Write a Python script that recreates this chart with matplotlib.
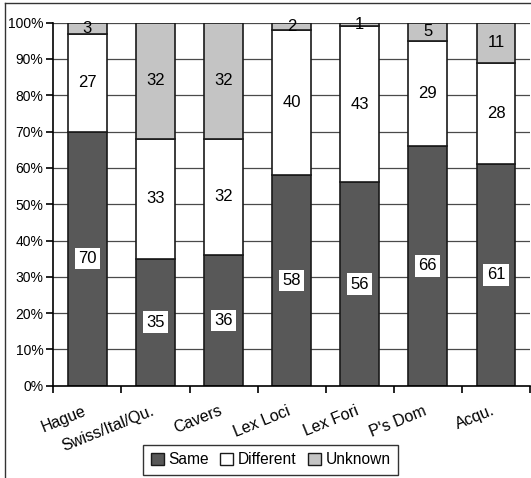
import matplotlib
matplotlib.use("Agg")
import matplotlib.pyplot as plt
from matplotlib.lines import Line2D
from matplotlib.patches import Patch
import numpy as np

plt.rcParams['font.family'] = ['Liberation Sans', 'DejaVu Sans']

categories = ["Hague", "Swiss/Ital/Qu.", "Cavers", "Lex Loci", "Lex Fori", "P's Dom", "Acqu."]
same = [70, 35, 36, 58, 56, 66, 61]
different = [27, 33, 32, 40, 43, 29, 28]
unknown = [3, 32, 32, 2, 1, 5, 11]
series_names = ["Same", "Different", "Unknown"]
colors = ["#585858", "#ffffff", "#c4c4c4"]

fig = plt.figure(figsize=(5.31, 4.78), dpi=100)
ax = fig.add_axes([53.3 / 531, 1 - 385.7 / 478, (530 - 53.3) / 531, (385.7 - 22.7) / 478])

x = np.arange(len(categories))
width = 0.57
same_a = np.array(same, dtype=float)
diff_a = np.array(different, dtype=float)
unk_a = np.array(unknown, dtype=float)

# horizontal gridlines behind bars
for v in range(10, 101, 10):
    ax.axhline(v, color="#4a4a4a", lw=0.9, zorder=0)

ax.bar(x, same_a, width, color=colors[0], edgecolor="#1a1a1a", lw=1.2, zorder=2)
ax.bar(x, diff_a, width, bottom=same_a, color=colors[1], edgecolor="#1a1a1a", lw=1.2, zorder=2)
ax.bar(x, unk_a, width, bottom=same_a + diff_a, color=colors[2], edgecolor="#1a1a1a", lw=1.2, zorder=2)

lab_fs = 12
for i in range(len(categories)):
    ax.text(x[i], same_a[i] / 2, str(same[i]), ha="center", va="center", fontsize=lab_fs,
            zorder=4, bbox=dict(boxstyle="square,pad=0.2", fc="white", ec="none"))
    ax.text(x[i], same_a[i] + diff_a[i] / 2, str(different[i]), ha="center", va="center",
            fontsize=lab_fs, zorder=4)
    ax.text(x[i], same_a[i] + diff_a[i] + unk_a[i] / 2, str(unknown[i]), ha="center", va="center",
            fontsize=lab_fs, zorder=4)

ax.set_xlim(-0.5, len(categories) - 0.5)
ax.set_ylim(0, 100)
ax.set_yticks(range(0, 101, 10))
ax.set_yticklabels([f"{v}%" for v in range(0, 101, 10)], fontsize=10)
ax.tick_params(axis="y", length=5, width=1.2, pad=2)

# category boundary ticks, labels at centres
ax.set_xticks(np.arange(-0.5, len(categories), 1.0))
ax.set_xticklabels([])
ax.tick_params(axis="x", length=5, width=1.2, direction="out")
for i, name in enumerate(categories):
    ax.annotate(name, xy=(x[i], 0), xycoords=("data", "axes fraction"),
                xytext=(-3.5, -12.5), textcoords="offset points",
                ha="right", va="top", rotation=22, rotation_mode="anchor", fontsize=11.5)

for s in ["top", "right"]:
    ax.spines[s].set_visible(False)
ax.spines["left"].set_linewidth(1.2)
ax.spines["bottom"].set_linewidth(1.2)

handles = [Patch(facecolor=c, edgecolor="#1a1a1a", lw=1.0) for c in colors]
leg = fig.legend(handles, series_names, loc="upper left", bbox_to_anchor=(143 / 531, 1 - 444.5 / 478),
                 borderaxespad=0, ncol=3, frameon=True, fancybox=False, edgecolor="black",
                 fontsize=11.2, handlelength=0.85, handleheight=0.85, handletextpad=0.3,
                 columnspacing=0.7, borderpad=0.5)
leg.get_frame().set_linewidth(1.0)

# outer chart frame
fig.add_artist(Line2D([5 / 531, 5 / 531], [0, 1 - 3 / 478], transform=fig.transFigure, color="#333333", lw=1))
fig.add_artist(Line2D([5 / 531, 1], [1 - 3 / 478, 1 - 3 / 478], transform=fig.transFigure, color="#333333", lw=1))

fig.savefig("out.png", dpi=100)
